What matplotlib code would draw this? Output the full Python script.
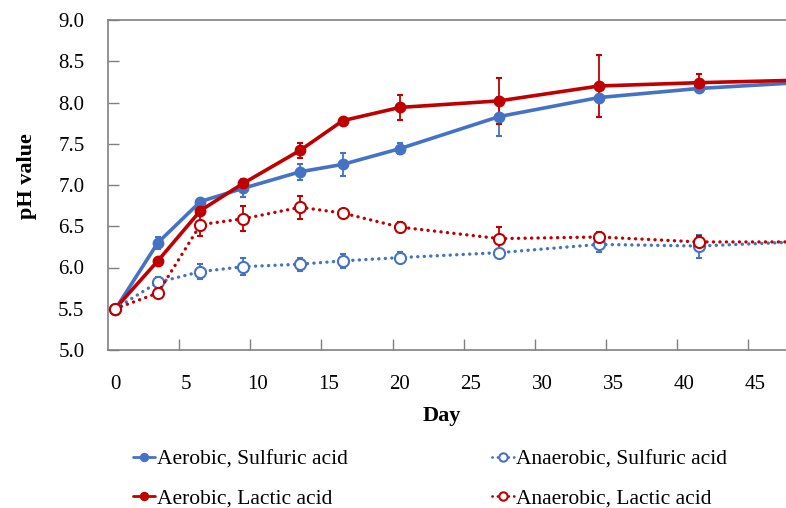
import numpy as np
import matplotlib.pyplot as plt

plt.rcParams['font.family'] = ['Liberation Serif', 'DejaVu Serif']

# 采样天数
days = [0, 3, 6, 9, 13, 16, 20, 27, 34, 41, 48]

# pH 平均值
aer_sulf = [5.49, 6.30, 6.80, 6.96, 7.16, 7.25, 7.44, 7.83, 8.06, 8.17, 8.24]
aer_lac = [5.50, 6.08, 6.69, 7.02, 7.42, 7.78, 7.94, 8.02, 8.20, 8.24, 8.27]
ana_sulf = [5.50, 5.82, 5.95, 6.01, 6.04, 6.08, 6.12, 6.18, 6.28, 6.26, 6.31]
ana_lac = [5.50, 5.69, 6.52, 6.59, 6.73, 6.66, 6.49, 6.35, 6.37, 6.31, 6.31]

# 误差
aer_sulf_err = [0.02, 0.07, 0.03, 0.11, 0.10, 0.14, 0.07, 0.24, 0.03, 0.04, 0.02]
aer_lac_err = [0.02, 0.03, 0.05, 0.03, 0.09, 0.03, 0.15, 0.28, 0.37, 0.10, 0.02]
ana_sulf_err = [0.02, 0.07, 0.09, 0.10, 0.08, 0.08, 0.07, 0.03, 0.09, 0.14, 0.02]
ana_lac_err = [0.02, 0.03, 0.14, 0.15, 0.14, 0.04, 0.06, 0.14, 0.06, 0.07, 0.02]

labels = ['Aerobic, Sulfuric acid', 'Aerobic, Lactic acid',
          'Anaerobic, Sulfuric acid', 'Anaerobic, Lactic acid']

blue = '#4472C4'
red = '#C00000'

fig = plt.figure(figsize=(7.86, 5.08), dpi=100)
ax = fig.add_axes([108 / 786, 1 - 350 / 508, 1 - 108 / 786 + 0.01, 330 / 508])

series = [
    (aer_sulf, aer_sulf_err, blue, True),
    (aer_lac, aer_lac_err, red, True),
    (ana_sulf, ana_sulf_err, blue, False),
    (ana_lac, ana_lac_err, red, False),
]
handles = []
for (y, err, c, filled), label in zip(series, labels):
    ls = '-' if filled else (0, (0.05, 1.9))
    eb = ax.errorbar(days, y, yerr=err, color=c, ecolor=c, elinewidth=1.3, capsize=2.5,
                     capthick=1.3, linestyle=ls, linewidth=2.6 if filled else 2.4,
                     marker='o', markersize=7 if filled else 8,
                     markerfacecolor=c if filled else 'white', markeredgecolor=c,
                     markeredgewidth=1.5, zorder=3)
    eb[0].set_dash_capstyle('round')
    eb[0].set_solid_capstyle('round')
    handles.append(eb[0])

ax.set_xlim(-0.5, 47.7)
ax.set_ylim(5.0, 9.0)
ax.set_yticks(np.arange(5.0, 9.01, 0.5))
ax.set_yticklabels([f'{v:.1f}' for v in np.arange(5.0, 9.01, 0.5)])
ax.set_xticks(range(0, 46, 5))
ax.set_xticks(np.arange(4.5, 47, 5), minor=True)
ax.tick_params(axis='x', which='major', length=0, pad=18, labelsize=15)
ax.tick_params(axis='x', which='minor', direction='in', length=8, color='#808080', width=1)
ax.tick_params(axis='y', direction='in', length=8, color='#808080', width=1, labelsize=15, pad=17)

for s in ['left', 'bottom', 'top']:
    ax.spines[s].set_color('#808080')
    ax.spines[s].set_linewidth(1.2)
ax.spines['right'].set_visible(False)

fig.text(27 / 786, 1 - 176 / 508, 'pH value', rotation=90, fontsize=16, fontweight='bold',
         ha='center', va='center')
fig.text(442 / 786, 1 - 416 / 508, 'Day', fontsize=16, fontweight='bold', ha='center', va='center')

leg = fig.legend(handles=handles, labels=labels, loc='center left',
                 bbox_to_anchor=(114 / 786, 1 - 479 / 508),
                 ncol=2, frameon=False, fontsize=15.5, handlelength=1.0, handletextpad=0.1,
                 columnspacing=6.7, labelspacing=0.85, markerscale=0.75)
for h in leg.legend_handles:
    h.set_linewidth(2.0)

fig.savefig('out.png', dpi=100)
